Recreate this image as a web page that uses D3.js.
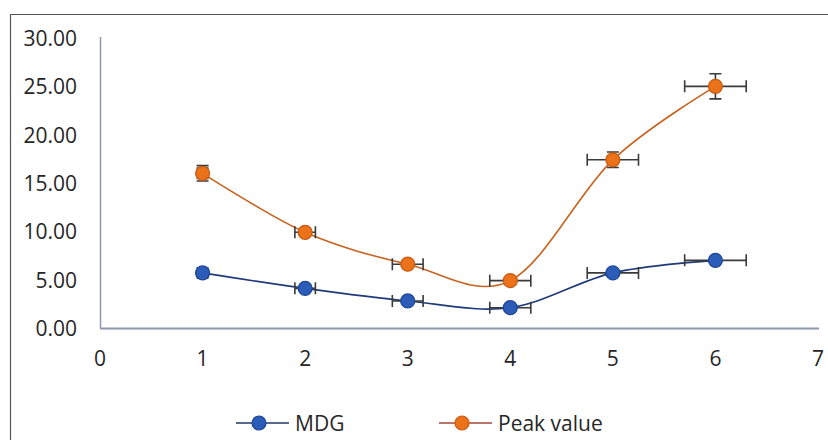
<!DOCTYPE html>
<html>
<head>
<meta charset="utf-8">
<script src="https://cdn.jsdelivr.net/npm/d3@7"></script>
<style>
  body { margin: 0; background: #fff; }
  text { font-family: "Open Sans", "Noto Sans", sans-serif; fill: #262626; }
</style>
</head>
<body>
<svg id="svg" width="828" height="440"></svg>
<script>
var xs = [1, 2, 3, 4, 5, 6];
var mdg = [5.7, 4.1, 2.8, 2.1, 5.7, 7.0];
var peak = [16.0, 9.9, 6.6, 4.9, 17.4, 25.0];
var xErr = [0.05, 0.1, 0.15, 0.2, 0.25, 0.3];
var mdgErr = [0.35, 0.2, 0.2, 0.2, 0.2, 0.2];
var peakErr = [0.8, 0.3, 0.3, 0.3, 0.8, 1.3];
var yTicks = [0, 5, 10, 15, 20, 25, 30];
var xTicks = [0, 1, 2, 3, 4, 5, 6, 7];

var svg = d3.select("#svg");

// outer chart border (cut off at right and bottom)
svg.append("path")
    .attr("d", "M10.5,450 V14.5 H840")
    .attr("fill", "none")
    .attr("stroke", "#595959")
    .attr("stroke-width", 1.2);

var x = d3.scaleLinear().domain([0, 7]).range([100, 818]);
var y = d3.scaleLinear().domain([0, 30]).range([328, 38]);

// axes lines
svg.append("line")
    .attr("x1", 100.5).attr("x2", 100.5)
    .attr("y1", 37).attr("y2", y(0))
    .attr("stroke", "#8c99ab").attr("stroke-width", 1.5);
svg.append("line")
    .attr("x1", 100).attr("x2", 819)
    .attr("y1", y(0) + 0.5).attr("y2", y(0) + 0.5)
    .attr("stroke", "#8c99ab").attr("stroke-width", 2);

svg.append("g").selectAll("text")
  .data(yTicks)
  .enter().append("text")
    .attr("x", 77)
    .attr("y", function(d) { return y(d) + 8; })
    .attr("text-anchor", "end")
    .attr("font-size", 21)
    .text(function(d) { return d3.format(".2f")(d); });

svg.append("g").selectAll("text")
  .data(xTicks)
  .enter().append("text")
    .attr("x", function(d) { return x(d); })
    .attr("y", 366)
    .attr("text-anchor", "middle")
    .attr("font-size", 21)
    .text(function(d) { return d; });

var series = [
  { name: "MDG", vals: mdg, err: mdgErr, line: "#1f3a7a", fill: "#2b5cb8", stroke: "#1d4596", legendLine: "#203864" },
  { name: "Peak value", vals: peak, err: peakErr, line: "#c8621e", fill: "#ec7219", stroke: "#c55a11", legendLine: "#a2463a" }
];

var line = d3.line()
    .x(function(d) { return x(d[0]); })
    .y(function(d) { return y(d[1]); })
    .curve(d3.curveCardinal.tension(0));

series.forEach(function(s) {
  var pts = xs.map(function(v, i) { return [v, s.vals[i], xErr[i], s.err[i]]; });

  svg.append("path")
      .datum(pts)
      .attr("fill", "none")
      .attr("stroke", s.line)
      .attr("stroke-width", 1.6)
      .attr("d", line);

  var eb = svg.append("g")
      .attr("stroke", "#3a3a3a")
      .attr("stroke-width", 1.6)
      .attr("fill", "none");

  eb.selectAll(".ex")
    .data(pts)
    .enter().append("path")
      .attr("d", function(d) {
        var x0 = x(d[0] - d[2]), x1 = x(d[0] + d[2]), yy = y(d[1]);
        return "M" + x0 + "," + yy + "H" + x1 +
               "M" + x0 + "," + (yy - 6) + "V" + (yy + 6) +
               "M" + x1 + "," + (yy - 6) + "V" + (yy + 6);
      });

  eb.selectAll(".ey")
    .data(pts)
    .enter().append("path")
      .attr("d", function(d) {
        var xx = x(d[0]), y0 = y(d[1] - d[3]), y1 = y(d[1] + d[3]);
        return "M" + xx + "," + y0 + "V" + y1 +
               "M" + (xx - 6) + "," + y0 + "H" + (xx + 6) +
               "M" + (xx - 6) + "," + y1 + "H" + (xx + 6);
      });

  svg.append("g").selectAll("circle")
    .data(pts)
    .enter().append("circle")
      .attr("cx", function(d) { return x(d[0]); })
      .attr("cy", function(d) { return y(d[1]); })
      .attr("r", 7)
      .attr("fill", s.fill)
      .attr("stroke", s.stroke)
      .attr("stroke-width", 1.2);
});

// legend
var legendX = [236, 439];
var lg = svg.append("g");
series.forEach(function(s, i) {
  var lx = legendX[i];
  lg.append("line")
      .attr("x1", lx).attr("x2", lx + 53)
      .attr("y1", 423).attr("y2", 423)
      .attr("stroke", s.legendLine).attr("stroke-width", 1.6);
  lg.append("circle")
      .attr("cx", lx + 23).attr("cy", 423).attr("r", 7)
      .attr("fill", s.fill).attr("stroke", s.stroke).attr("stroke-width", 1.2);
  lg.append("text")
      .attr("x", lx + 59).attr("y", 431)
      .attr("font-size", 21)
      .text(s.name);
});
</script>
</body>
</html>
